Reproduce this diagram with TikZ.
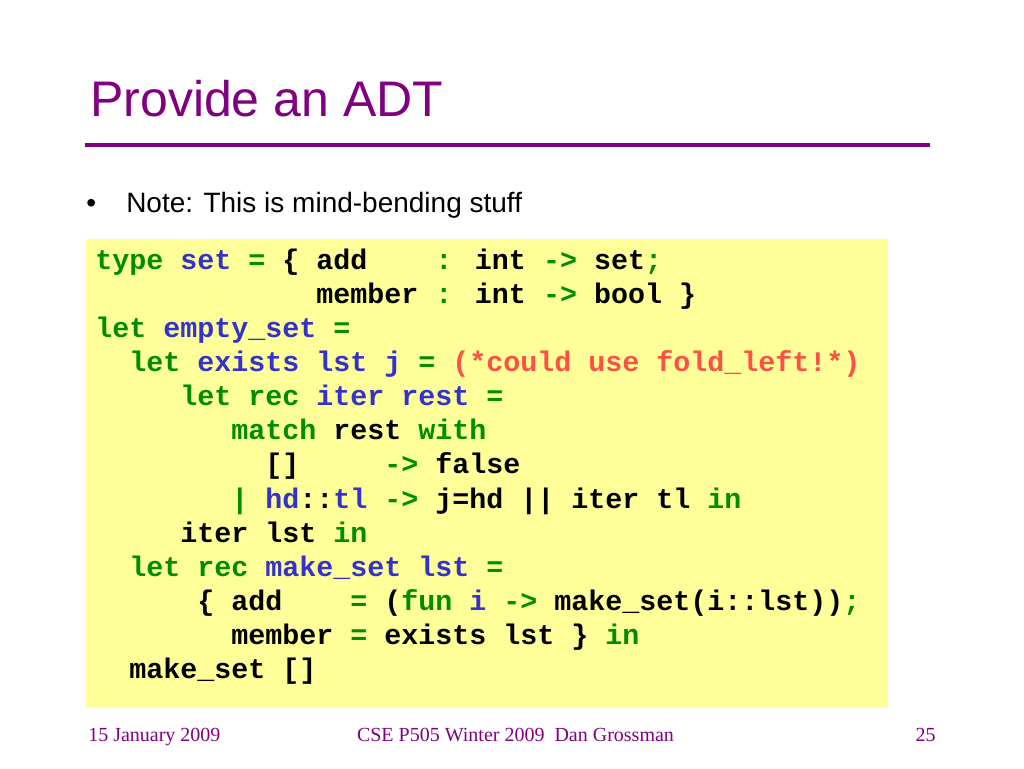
\documentclass[tikz,border=0pt]{standalone}
\usepackage{fontspec}
\setmainfont{Liberation Sans}
\newfontfamily\codefont{Liberation Mono}
\newfontfamily\footfont{Liberation Serif}

\definecolor{slidepurple}{RGB}{128,0,128}
\definecolor{codeyellow}{RGB}{255,255,153}
\definecolor{codegreen}{RGB}{0,140,0}
\definecolor{codeblue}{RGB}{51,51,204}
\definecolor{codered}{RGB}{255,80,70}

\newcommand{\kw}[1]{\textcolor{codegreen}{#1}}
\newcommand{\nm}[1]{\textcolor{codeblue}{#1}}
\newcommand{\cmt}[1]{\textcolor{codered}{#1}}

\tikzset{
	codeline/.style={anchor=base west,inner sep=0pt,font=\codefont\bfseries\fontsize{21.25}{25}\selectfont},
	foottext/.style={anchor=base,inner sep=0pt,text=slidepurple,font=\footfont\fontsize{15}{18}\selectfont}
}

\begin{document}
\begin{tikzpicture}[x=0.75pt,y=-0.75pt]
		\useasboundingbox (0,0) rectangle (1024,768);
		\fill[white] (0,0) rectangle (1024,768);
		
		\node[anchor=base west,inner sep=0pt,text=slidepurple,font=\fontsize{37.5}{44}\selectfont] (title) at (90,116.7) {Provide an ADT};
		\draw[slidepurple,line width=3.6pt] (85,145) -- (930,145);
		
		\node[anchor=base west,inner sep=0pt,font=\fontsize{21}{25}\selectfont] (dot) at (86,212) {\textbullet};
		\node[anchor=base west,inner sep=0pt,font=\fontsize{21}{25}\selectfont] (note) at (126,212) {Note: This is mind-bending stuff};
		
		\fill[codeyellow] (86,238.5) rectangle (887.5,707.5);
		
		\node[codeline] (c1) at (95,269.5) {\kw{type} \nm{set} \kw{=} \{ add~~~~\kw{:} int \kw{->} set\kw{;}};
		\node[codeline] (c2) at (95,303.6) {~~~~~~~~~~~~~member \kw{:} int \kw{->} bool \}};
		\node[codeline] (c3) at (95,337.6) {\kw{let} \nm{empty\_set} \kw{=}};
		\node[codeline] (c4) at (95,371.7) {~~\kw{let} \nm{exists} \nm{lst} \nm{j} \kw{=} \cmt{(*could use fold\_left!*)}};
		\node[codeline] (c5) at (95,405.8) {~~~~~\kw{let} \kw{rec} \nm{iter} \nm{rest} \kw{=}};
		\node[codeline] (c6) at (95,439.9) {~~~~~~~~\kw{match} rest \kw{with}};
		\node[codeline] (c7) at (95,473.9) {~~~~~~~~~~[]~~~~~\kw{->} false};
		\node[codeline] (c8) at (95,508.0) {~~~~~~~~\kw{|} \nm{hd}::\nm{tl} \kw{->} j=hd || iter tl \kw{in}};
		\node[codeline] (c9) at (95,542.1) {~~~~~iter lst \kw{in}};
		\node[codeline] (c10) at (95,576.1) {~~\kw{let} \kw{rec} \nm{make\_set} \nm{lst} \kw{=}};
		\node[codeline] (c11) at (95,610.2) {~~~~~~\{ add~~~~\kw{=} (\kw{fun} \nm{i} \kw{->} make\_set(i::lst))\kw{;}};
		\node[codeline] (c12) at (95,644.3) {~~~~~~~~member \kw{=} exists lst \} \kw{in}};
		\node[codeline] (c13) at (95,678.3) {~~make\_set []};
		
		\node[foottext,anchor=base west] (date) at (88,741.7) {15 January 2009};
		\node[foottext] (course) at (515.5,741.7) {CSE P505 Winter 2009~~Dan Grossman};
		\node[foottext,anchor=base east] (page) at (936,741.7) {25};
\end{tikzpicture}
\end{document}
